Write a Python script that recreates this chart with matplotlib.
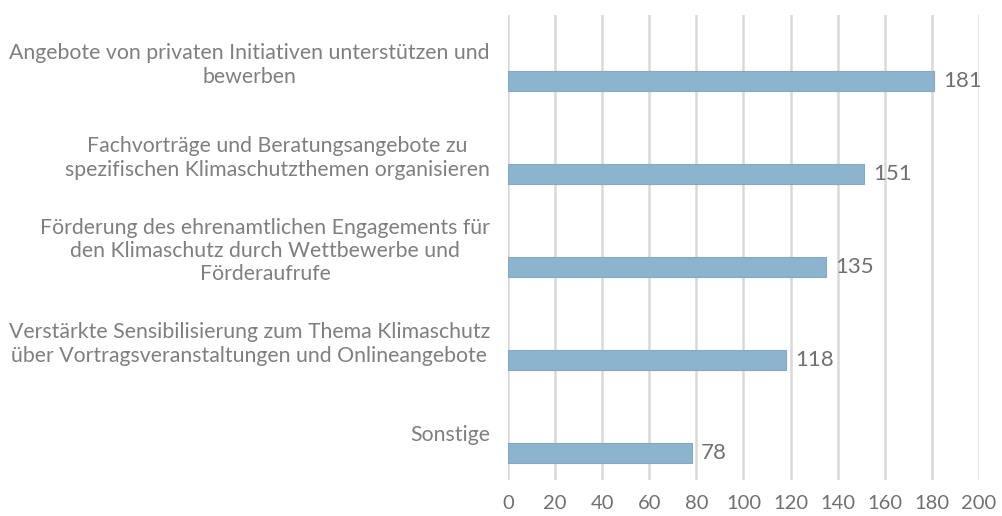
import numpy as np
import matplotlib
matplotlib.use("Agg")
import matplotlib.pyplot as plt

plt.rcParams["font.family"] = ["Lato", "DejaVu Sans"]

# ── Data ──────────────────────────────────────────────────────────────────────
categories = [
    "Angebote von privaten Initiativen unterstützen und\nbewerben",
    "Fachvorträge und Beratungsangebote zu\nspezifischen Klimaschutzthemen organisieren",
    "Förderung des ehrenamtlichen Engagements für\nden Klimaschutz durch Wettbewerbe und\nFörderaufrufe",
    "Verstärkte Sensibilisierung zum Thema Klimaschutz\nüber Vortragsveranstaltungen und Onlineangebote",
    "Sonstige",
]
values = [181, 151, 135, 118, 78]
x_ticks = list(range(0, 201, 20))

BAR_COLOR  = "#8db4cf"
EDGE_COLOR = "#86a9c2"
GRID_COLOR = "#d9d9d9"
LABEL_GRAY = "#7f7f7f"
VALUE_GRAY = "#707070"

# ── Plot ──────────────────────────────────────────────────────────────────────
fig = plt.figure(figsize=(10.02, 5.16), dpi=100)
ax = fig.add_axes([0.507, 0.070, 0.470, 0.901])

y = np.arange(len(categories))
ax.barh(y + 0.21, values, height=0.22, color=BAR_COLOR,
        edgecolor=EDGE_COLOR, linewidth=0.8, zorder=3)

for yi, v in zip(y, values):
    ax.text(v + 4, yi + 0.21, str(v), va="center", ha="left",
            fontsize=16, color=VALUE_GRAY, zorder=4)

ax.set_xlim(0, 200)
ax.set_ylim(len(categories) - 0.5, -0.5)
ax.set_xticks(x_ticks)
ax.set_yticks(y)
ax.set_yticklabels(categories, multialignment="center", fontsize=15.3,
                   color=LABEL_GRAY, linespacing=1.2)
ax.tick_params(axis="y", length=0, pad=13)
ax.tick_params(axis="x", length=0, pad=11, labelsize=14.5, labelcolor=VALUE_GRAY)

ax.grid(axis="x", color=GRID_COLOR, linewidth=1.8, zorder=0)
for s in ax.spines.values():
    s.set_visible(False)

fig.savefig("out.png", dpi=100)
